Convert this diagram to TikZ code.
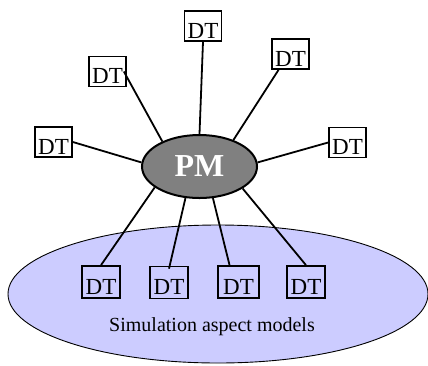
\documentclass[tikz,border=0pt]{standalone}
\usepackage{fontspec}
\setmainfont{Liberation Serif}
\usetikzlibrary{shapes.geometric}
\definecolor{aspectblue}{RGB}{204,204,255}

\begin{document}
\begin{tikzpicture}[x=1pt,y=-1pt,
  dt/.style={draw, line width=1.7pt, inner sep=0pt, minimum width=37pt, minimum height=30pt,
    text height=24pt, text depth=0pt, font=\fontsize{23}{23}\selectfont},
  link/.style={line width=1.8pt}]
\useasboundingbox (0,0) rectangle (428,365);
% aspect models
\begin{scope}
\clip (0,0) rectangle (428,365);
\draw[fill=aspectblue, line width=0.9pt] (218,294) ellipse[x radius=210, y radius=69];
\end{scope}
\node (sim) at (212,327) {\fontsize{20}{20}\selectfont Simulation aspect models};

\node[ellipse, draw, line width=2pt, fill={rgb:black,1;white,1}, minimum width=115pt, minimum height=63pt,
  text=white, font=\fontsize{32}{32}\selectfont\bfseries] (pm) at (199.5,166.5) {PM};

\node[dt] (dtTop) at (203,26) {DT};
\node[dt] (dtUR) at (290.5,54) {DT};
\node[dt] (dtUL) at (107.5,71.5) {DT};
\node[dt] (dtL) at (53.5,142) {DT};
\node[dt] (dtR) at (347.5,142.5) {DT};
\node[dt, minimum width=38pt, minimum height=32pt] (dtA) at (101,282) {DT};
\node[dt, minimum width=38pt, minimum height=32pt] (dtB) at (169,282.5) {DT};
\node[dt, minimum width=41pt, minimum height=32pt] (dtC) at (238.5,282) {DT};
\node[dt, minimum width=38pt, minimum height=32pt] (dtD) at (306,282) {DT};

\draw[link] (dtTop.south) -- (pm.90);
\draw[link] (dtUR.233) -- (pm.38);
\draw[link] ([xshift=-3pt]dtUL.east) -- (pm.146);
\draw[link] (dtL.east) -- (pm.176);
\draw[link] (dtR.west) -- (pm.4);
\draw[link] (dtA.north) -- (pm.205);
\draw[link] ([yshift=-3pt]dtB.north) -- (pm.246);
\draw[link] (dtC.118) -- (pm.293);
\draw[link] (dtD.north) -- (pm.333);
\end{tikzpicture}
\end{document}
